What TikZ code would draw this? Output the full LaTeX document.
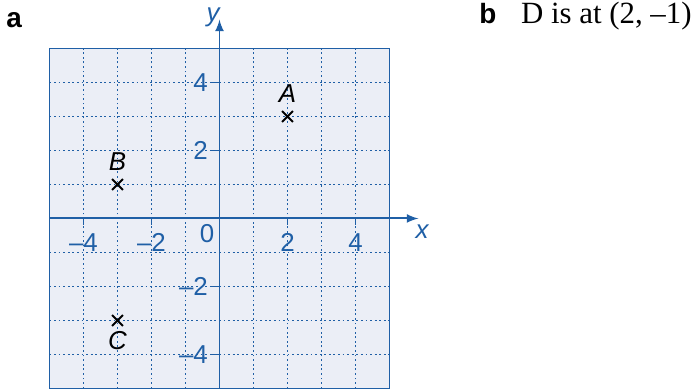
\documentclass[tikz,border=0pt]{standalone}
\usepackage{fontspec}
\setmainfont{Liberation Serif}
\setsansfont{Liberation Sans}
\usepackage{xcolor}
\usetikzlibrary{positioning, shapes.misc}
\definecolor{assi}{HTML}{1F5FA6}
\definecolor{sfondo}{HTML}{EBEEF6}

\begin{document}
\begin{tikzpicture}[x=0.6cm, y=0.6cm, every node/.style={inner sep=0pt},
    etich/.style={font=\sffamily\fontsize{13}{15}\selectfont, text=assi},
    punto/.style={font=\sffamily\itshape\fontsize{13}{15}\selectfont},
    croce/.style={draw, cross out, minimum size=4.5pt, line width=1pt},
    lettera/.style={font=\sffamily\bfseries\fontsize{14}{16}\selectfont}]
    \useasboundingbox (-6.456,-5.044) rectangle (13.956,6.426);

    % Griglia
    \fill[sfondo] (-5,-5) rectangle (5,5);
    \draw[assi, line width=0.85pt, dash pattern=on 0.9pt off 1.4pt, step=0.6cm] (-5,-5) grid (5,5);
    \draw[assi, line width=0.9pt] (-5,-5) rectangle (5,5);

    % Assi
    \coordinate (xini) at (-5,0);
    \coordinate (xfin) at (5.85,0);
    \coordinate (yini) at (0,-5);
    \coordinate (yfin) at (0,5.85);
    \draw[assi, line width=1pt, -latex] (xini) -- (xfin);
    \draw[assi, line width=1pt, -latex] (yini) -- (yfin);
    \node[etich, font=\sffamily\itshape\fontsize{13}{15}\selectfont] (xlab) at (5.96,-0.40) {x};
    \node[etich, font=\sffamily\itshape\fontsize{13}{15}\selectfont] (ylab) at (-0.19,5.93) {y};

    % Tacche
    \draw[assi, line width=0.8pt] (-4,0) -- (-4,-0.2);
    \draw[assi, line width=0.8pt] (-2,0) -- (-2,-0.2);
    \draw[assi, line width=0.8pt] (2,0) -- (2,-0.2);
    \draw[assi, line width=0.8pt] (4,0) -- (4,-0.2);
    \draw[assi, line width=0.8pt] (0,4) -- (-0.25,4);
    \draw[assi, line width=0.8pt] (0,2) -- (-0.25,2);
    \draw[assi, line width=0.8pt] (0,-2) -- (-0.25,-2);
    \draw[assi, line width=0.8pt] (0,-4) -- (-0.25,-4);
    \node[etich] (xm4) at (-4,-0.7) {–4};
    \node[etich] (xm2) at (-2,-0.7) {–2};
    \node[etich] (xp2) at (2,-0.7) {2};
    \node[etich] (xp4) at (4,-0.7) {4};
    \node[etich, anchor=east] (yp4) at (-0.33,4) {4};
    \node[etich, anchor=east] (yp2) at (-0.33,2) {2};
    \node[etich, anchor=east] (ym2) at (-0.33,-2) {–2};
    \node[etich, anchor=east] (ym4) at (-0.33,-4) {–4};
    \node[etich, anchor=east] (zero) at (-0.14,-0.43) {0};

    % Punti
    \node[croce] (pA) at (2,3) {};
    \node[croce] (pB) at (-3,1) {};
    \node[croce] (pC) at (-3,-3) {};
    \node[punto, above=4pt of pA] (lA) {A};
    \node[punto, above=4pt of pB] (lB) {B};
    \node[punto, below=2.6pt of pC] (lC) {C};

    % Parti a e b
    \node[lettera] (pa) at (-6.04,5.82) {a};
    \node[lettera, anchor=base west] (pb) at (7.63,5.72) {b};
    \node[base right=12pt of pb, font=\fontsize{15.5}{18}\selectfont] (risp) {D is at (2, –1)};
\end{tikzpicture}
\end{document}
